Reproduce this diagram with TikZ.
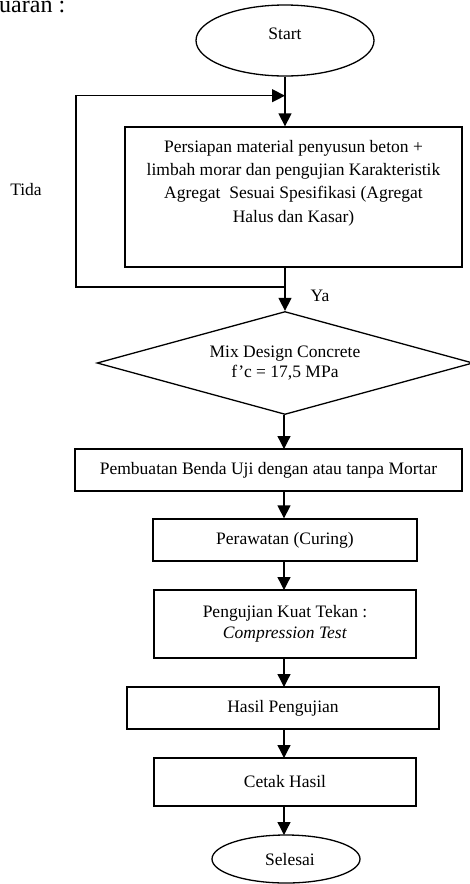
\documentclass[tikz,border=0pt]{standalone}
\usepackage{fontspec}
\setmainfont{Liberation Serif}
\usetikzlibrary{arrows.meta,shapes.geometric}
\begin{document}
\begin{tikzpicture}[x=1pt,y=1pt,
  lw/.style={line width=1.3pt},
  txt/.style={inner sep=0pt,align=center,font=\fontsize{17.5}{21}\selectfont},
  box/.style={draw,lw,rectangle,inner sep=0pt,align=center,font=\fontsize{17.5}{21}\selectfont},
  arr/.style={lw,-{Triangle[length=13pt,width=13pt]}}]
\useasboundingbox (0,0) rectangle (470,-884);
% header fragment
\node[anchor=base west,inner sep=0pt,font=\fontsize{24}{24}\selectfont] (hdr) at (-1,-12.5) {uaran :};
% start
\node[draw,lw,ellipse,inner sep=0pt,minimum width=178,minimum height=71] (start) at (285,-40.5) {};
\node[txt] (startt) at (285,-34) {Start};
% box 1
\node[box,minimum width=337,minimum height=140] (b1) at (293.5,-197) {};
\node[txt,font=\fontsize{17.5}{23.4}\selectfont] (b1t) at (293.5,-183)
  {Persiapan material penyusun beton +\\limbah morar dan pengujian Karakteristik\\Agregat\ \ Sesuai Spesifikasi (Agregat\\Halus dan Kasar)};
% diamond
\node[draw,lw,diamond,inner sep=0pt,minimum width=376,minimum height=103] (d) at (285,-363) {};
\node[txt,font=\fontsize{17.5}{20}\selectfont] (dt) at (285,-363) {Mix Design Concrete\\f'c = 17,5 MPa};
% boxes
\node[box,minimum width=387,minimum height=42] (b2) at (268.5,-470) {Pembuatan Benda Uji dengan atau tanpa Mortar};
\node[box,minimum width=264,minimum height=42] (b3) at (285,-540) {Perawatan (Curing)};
\node[box,minimum width=262,minimum height=68,font=\fontsize{17.5}{21}\selectfont] (b4) at (285,-624) {Pengujian Kuat Tekan :\\\textit{Compression Test}};
\node[box,minimum width=312,minimum height=42] (b5) at (283,-708) {Hasil Pengujian};
\node[box,minimum width=262,minimum height=48] (b6) at (285,-782) {Cetak Hasil};
\node[draw,lw,ellipse,inner sep=0pt,minimum width=148,minimum height=48] (end) at (286,-859) {};
\node[txt] (endt) at (290,-860) {Selesai};
% labels
\node[txt] (tida) at (26,-190) {Tida};
\node[txt] (ya) at (320,-296) {Ya};
% coordinates
\coordinate (j1) at (285,-287);
\coordinate (j2) at (285,-95.7);
\coordinate (lb) at (76,-287);
\coordinate (lt) at (76,-95.7);
% connectors
\draw[arr] (start.south) -- (start.south |- b1.north);
\draw[lw] (start.south |- b1.south) -- (j1);
\draw[arr] (j1) -- (d.north);
\draw[arr] (j1) -- (lb) -- (lt) -- (j2);
\draw[arr] (284,-414.5) -- (284,-449);
\draw[arr] (284,-491) -- (b3.north -| 284,0);
\draw[arr] (284,-561) -- (284,-590);
\draw[arr] (284,-658) -- (284,-687);
\draw[arr] (284,-729) -- (284,-758);
\draw[arr] (284,-806) -- (284,-835);
\end{tikzpicture}
\end{document}
